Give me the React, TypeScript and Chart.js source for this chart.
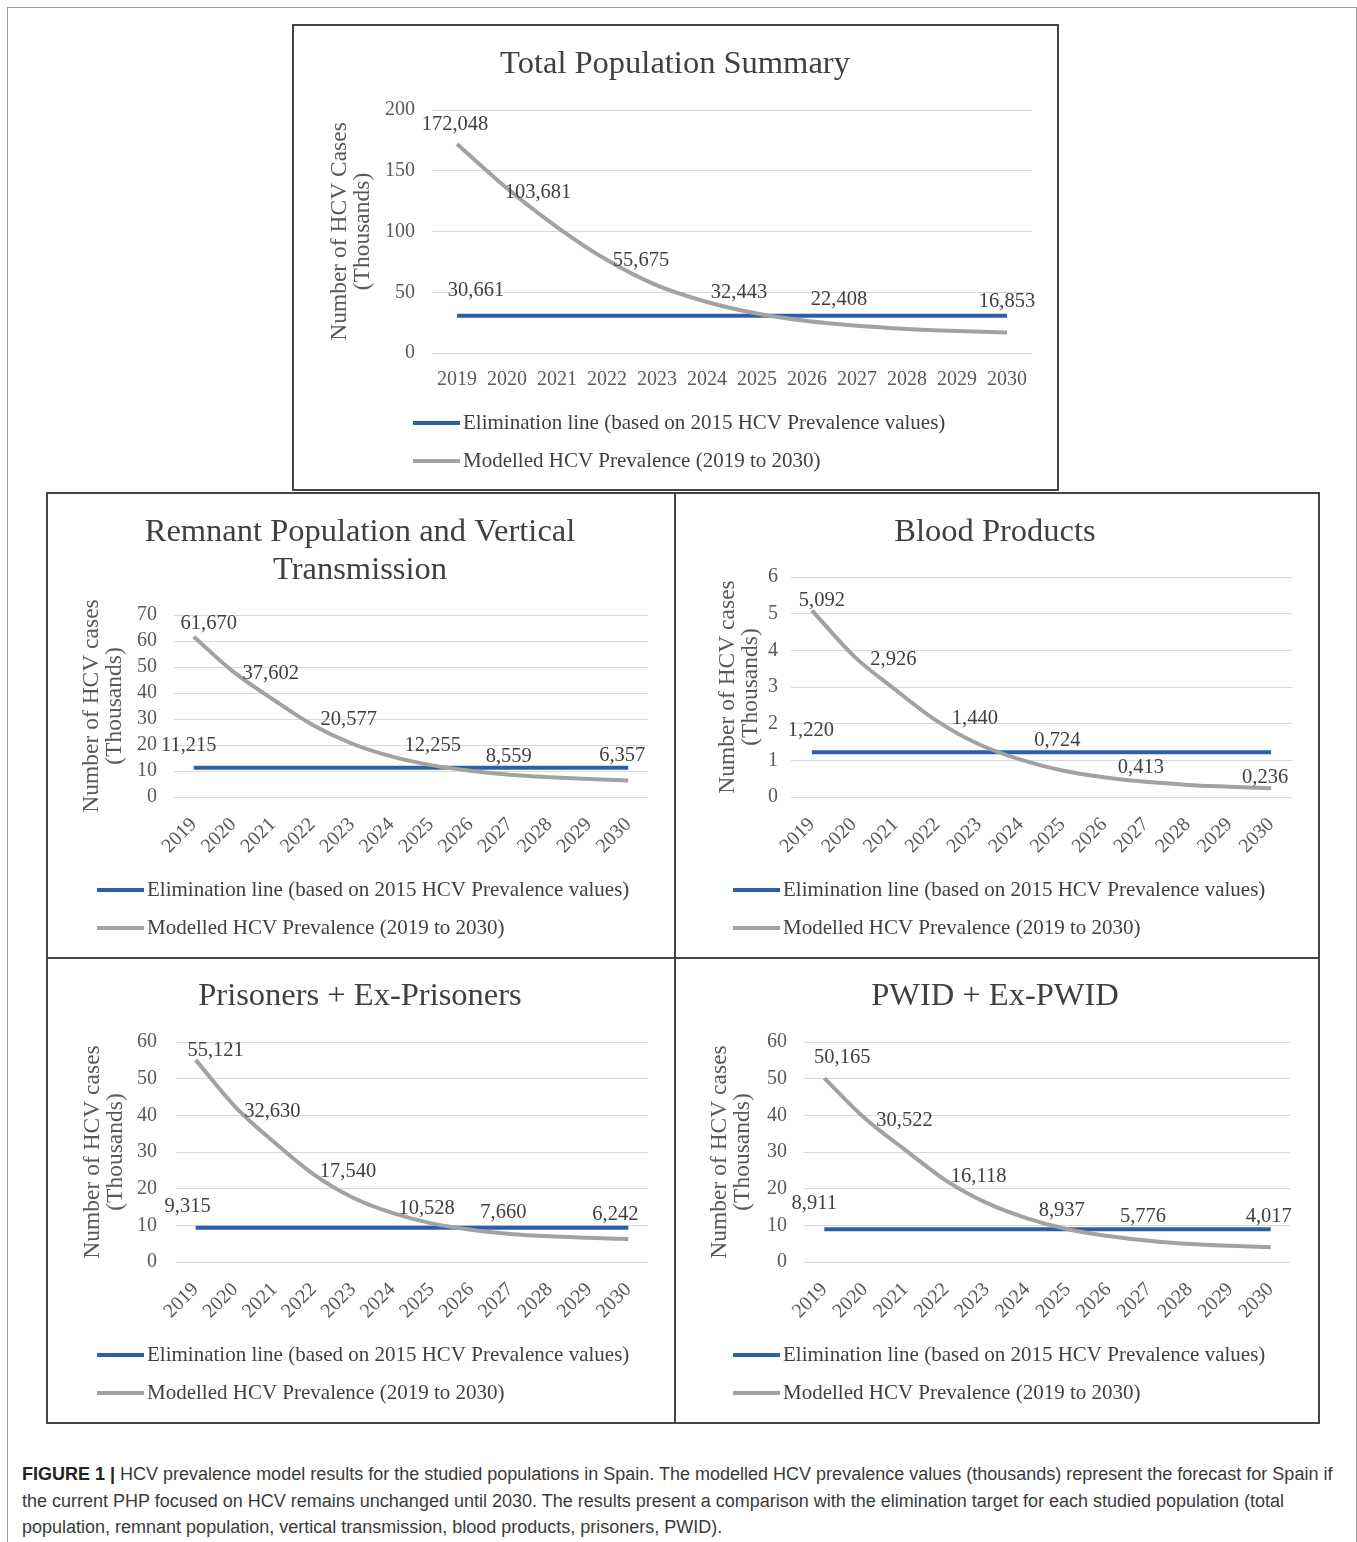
import React, { useEffect, useRef } from 'react';
import { Chart, registerables } from 'chart.js';

Chart.register(...registerables);

// ---------------- DATA ----------------
const years = ['2019', '2020', '2021', '2022', '2023', '2024', '2025', '2026', '2027', '2028', '2029', '2030'];
const modelledLabelYears = ['2019', '2021', '2023', '2025', '2027', '2030'];
const eliminationLabelYears = ['2019'];

const totalModelled = [172.048, 135.6, 103.681, 76.5, 55.675, 42.0, 32.443, 26.3, 22.408, 19.8, 18.1, 16.853];
const totalElimination = [30.661, 30.661, 30.661, 30.661, 30.661, 30.661, 30.661, 30.661, 30.661, 30.661, 30.661, 30.661];

const remnantModelled = [61.67, 48.2, 37.602, 27.8, 20.577, 15.6, 12.255, 10.1, 8.559, 7.6, 6.9, 6.357];
const remnantElimination = [11.215, 11.215, 11.215, 11.215, 11.215, 11.215, 11.215, 11.215, 11.215, 11.215, 11.215, 11.215];

const bloodModelled = [5.092, 3.85, 2.926, 2.07, 1.44, 1.02, 0.724, 0.54, 0.413, 0.33, 0.28, 0.236];
const bloodElimination = [1.22, 1.22, 1.22, 1.22, 1.22, 1.22, 1.22, 1.22, 1.22, 1.22, 1.22, 1.22];

const prisonModelled = [55.121, 42.4, 32.63, 23.9, 17.54, 13.4, 10.528, 8.8, 7.66, 7.0, 6.6, 6.242];
const prisonElimination = [9.315, 9.315, 9.315, 9.315, 9.315, 9.315, 9.315, 9.315, 9.315, 9.315, 9.315, 9.315];

const pwidModelled = [50.165, 39.2, 30.522, 22.2, 16.118, 11.9, 8.937, 7.1, 5.776, 4.9, 4.4, 4.017];
const pwidElimination = [8.911, 8.911, 8.911, 8.911, 8.911, 8.911, 8.911, 8.911, 8.911, 8.911, 8.911, 8.911];

const eliminationLabel = 'Elimination line (based on 2015 HCV Prevalence values)';
const modelledLabel = 'Modelled HCV Prevalence (2019 to 2030)';

// ---------------- STYLE ----------------
const SERIF = "'Liberation Serif', 'Times New Roman', 'DejaVu Serif', serif";
const BLUE = '#2f5ea9';
const GRAY = '#a2a2a2';
const TEXT = '#404040';
const TICK = '#595959';

const fmt = (v: number) => v.toFixed(3).replace('.', ',');

const labelPlugin = {
  id: 'hcvLabels',
  afterDatasetsDraw(chart: any, _args: any, opts: any) {
    const ctx = chart.ctx;
    ctx.save();
    ctx.font = `20.5px ${SERIF}`;
    ctx.fillStyle = TEXT;
    ctx.textAlign = 'center';
    ctx.textBaseline = 'middle';
    chart.data.datasets.forEach((ds: any, di: number) => {
      const meta = chart.getDatasetMeta(di);
      const isElim = ds.kind === 'elim';
      const wanted = isElim ? eliminationLabelYears : modelledLabelYears;
      wanted.forEach((yr: string, k: number) => {
        const idx = chart.data.labels.indexOf(yr);
        const el = meta.data[idx];
        if (!el) return;
        const off = isElim ? opts.elim : opts.offs[k];
        ctx.fillText(fmt(ds.data[idx]), el.x + off[0], el.y + off[1]);
      });
    });
    ctx.restore();
  },
};

const legendPlugin = {
  id: 'hcvLegend',
  afterDraw(chart: any, _args: any, opts: any) {
    const ctx = chart.ctx;
    ctx.save();
    chart.data.datasets.forEach((ds: any, i: number) => {
      const y = opts.rows[i];
      ctx.strokeStyle = ds.borderColor;
      ctx.lineWidth = 4;
      ctx.beginPath();
      ctx.moveTo(opts.x, y);
      ctx.lineTo(opts.x + 47, y);
      ctx.stroke();
      ctx.fillStyle = TEXT;
      ctx.font = `21px ${SERIF}`;
      ctx.textAlign = 'left';
      ctx.textBaseline = 'middle';
      ctx.fillText(ds.label, opts.x + 50, y);
    });
    ctx.restore();
  },
};

type Spec = {
  key: string;
  title: string[];
  yTitle: string[];
  modelled: number[];
  elimination: number[];
  yMax: number;
  yStep: number;
  box: { left: number; top: number; width: number; height: number };
  area: { left: number; right: number; top: number; bottom: number };
  titleY: number;
  titleCenterX: number;
  yTitleX: number;
  yTickRight: number;
  rotate: number;
  xTickPad: number;
  legendX: number;
  legendRows: number[];
  offs: number[][];
  elim: number[];
};

const panels: Spec[] = [
  {
    key: 'total',
    title: ['Total Population Summary'],
    yTitle: ['Number of HCV Cases', '(Thousands)'],
    modelled: totalModelled,
    elimination: totalElimination,
    yMax: 200,
    yStep: 50,
    box: { left: 292, top: 24, width: 767, height: 467 },
    area: { left: 140, right: 740, top: 86, bottom: 329 },
    titleY: 40,
    titleCenterX: 383,
    yTitleX: 48,
    yTickRight: 123,
    rotate: 0,
    xTickPad: 7,
    legendX: 121,
    legendRows: [399, 437],
    offs: [[-2, -19], [-19, -34], [-16, -25], [-18, -21], [-18, -26], [0, -31]],
    elim: [19, -25],
  },
  {
    key: 'remnant',
    title: ['Remnant Population and Vertical', 'Transmission'],
    yTitle: ['Number of HCV cases', '(Thousands)'],
    modelled: remnantModelled,
    elimination: remnantElimination,
    yMax: 70,
    yStep: 10,
    box: { left: 46, top: 492, width: 630, height: 467 },
    area: { left: 128, right: 602, top: 123, bottom: 305 },
    titleY: 40,
    titleCenterX: 314,
    yTitleX: 46,
    yTickRight: 111,
    rotate: 45,
    xTickPad: 8,
    legendX: 51,
    legendRows: [398, 436],
    offs: [[15, -13], [-2, -26], [-3, -24], [2, -20], [-1, -18], [-6, -25]],
    elim: [-5, -22],
  },
  {
    key: 'blood',
    title: ['Blood Products'],
    yTitle: ['Number of HCV cases', '(Thousands)'],
    modelled: bloodModelled,
    elimination: bloodElimination,
    yMax: 6,
    yStep: 1,
    box: { left: 674, top: 492, width: 646, height: 467 },
    area: { left: 117, right: 618, top: 85, bottom: 305 },
    titleY: 40,
    titleCenterX: 321,
    yTitleX: 54,
    yTickRight: 104,
    rotate: 45,
    xTickPad: 8,
    legendX: 59,
    legendRows: [398, 436],
    offs: [[10, -10], [-2, -30], [-4, -26], [-5, -30], [-5, -14], [-6, -11]],
    elim: [-1, -22],
  },
  {
    key: 'prison',
    title: ['Prisoners + Ex-Prisoners'],
    yTitle: ['Number of HCV cases', '(Thousands)'],
    modelled: prisonModelled,
    elimination: prisonElimination,
    yMax: 60,
    yStep: 10,
    box: { left: 46, top: 957, width: 630, height: 467 },
    area: { left: 130, right: 602, top: 85, bottom: 305 },
    titleY: 39,
    titleCenterX: 314,
    yTitleX: 47,
    yTickRight: 111,
    rotate: 45,
    xTickPad: 8,
    legendX: 51,
    legendRows: [398, 436],
    offs: [[20, -9], [-2, -31], [-5, -26], [-5, -15], [-7, -21], [-13, -25]],
    elim: [-8, -21],
  },
  {
    key: 'pwid',
    title: ['PWID + Ex-PWID'],
    yTitle: ['Number of HCV cases', '(Thousands)'],
    modelled: pwidModelled,
    elimination: pwidElimination,
    yMax: 60,
    yStep: 10,
    box: { left: 674, top: 957, width: 646, height: 467 },
    area: { left: 130, right: 617, top: 85, bottom: 305 },
    titleY: 39,
    titleCenterX: 321,
    yTitleX: 46,
    yTickRight: 113,
    rotate: 45,
    xTickPad: 8,
    legendX: 59,
    legendRows: [398, 436],
    offs: [[18, -20], [-1, -29], [-8, -26], [-6, -19], [-6, -24], [-2, -31]],
    elim: [-10, -26],
  },
];

function Panel({ spec }: { spec: Spec }) {
  const ref = useRef<HTMLCanvasElement>(null);
  useEffect(() => {
    const s = spec;
    const W = s.box.width;
    const H = s.box.height;
    const padR = W - s.area.right;
    const padL = 2 * s.titleCenterX - (W - padR);
    const titleSize = 32.5;
    const titleLH = 38;
    const pt = s.titleY - titleLH / 2;
    const pb = s.area.top - pt - s.title.length * titleLH;
    const xH = 60;
    const padB = H - s.area.bottom - xH;
    const ySize = 23.5;
    const yLH = 23;
    const yTitlePadTop = s.yTitleX - padL - yLH / 2;
    const yWidth = s.area.left - padL;
    const yTickPad = s.area.left - s.yTickRight;

    const chart = new Chart(ref.current as HTMLCanvasElement, {
      type: 'line',
      data: {
        labels: years,
        datasets: [
          {
            label: eliminationLabel,
            kind: 'elim',
            data: s.elimination,
            borderColor: BLUE,
            backgroundColor: BLUE,
            borderWidth: 4,
            pointRadius: 0,
            tension: 0,
            order: 1,
          } as any,
          {
            label: modelledLabel,
            kind: 'model',
            data: s.modelled,
            borderColor: GRAY,
            backgroundColor: GRAY,
            borderWidth: 4,
            pointRadius: 0,
            cubicInterpolationMode: 'monotone',
            order: 0,
          } as any,
        ],
      },
      options: {
        responsive: false,
        animation: false,
        layout: { padding: { left: padL, right: padR, top: 0, bottom: padB } },
        plugins: {
          legend: { display: false },
          tooltip: { enabled: false },
          title: {
            display: true,
            text: s.title,
            color: TEXT,
            font: { family: SERIF, size: titleSize, weight: 'normal', lineHeight: titleLH / titleSize },
            padding: { top: pt, bottom: pb },
          },
          hcvLabels: { offs: s.offs, elim: s.elim },
          hcvLegend: { x: s.legendX, rows: s.legendRows },
        } as any,
        scales: {
          x: {
            offset: true,
            grid: { display: false },
            border: { display: false },
            ticks: {
              autoSkip: false,
              minRotation: s.rotate,
              maxRotation: s.rotate,
              padding: s.xTickPad,
              color: TICK,
              font: { family: SERIF, size: 20 },
            },
            afterFit: (sc: any) => {
              sc.height = xH;
            },
          },
          y: {
            min: 0,
            max: s.yMax,
            ticks: {
              stepSize: s.yStep,
              autoSkip: false,
              padding: yTickPad,
              color: TICK,
              font: { family: SERIF, size: 20 },
            },
            grid: { color: '#d9d9d9', drawTicks: false, lineWidth: 1 },
            border: { display: false },
            title: {
              display: true,
              text: s.yTitle,
              color: TICK,
              font: { family: SERIF, size: ySize, lineHeight: yLH / ySize },
              padding: { top: yTitlePadTop, bottom: 0 },
            },
            afterFit: (sc: any) => {
              sc.width = yWidth;
            },
          },
        },
      } as any,
      plugins: [labelPlugin, legendPlugin],
    });
    return () => chart.destroy();
  }, [spec]);

  const b = spec.box;
  return (
    <>
      <canvas
        ref={ref}
        width={b.width}
        height={b.height}
        style={{ position: 'absolute', left: b.left, top: b.top, width: b.width, height: b.height }}
      />
      <div
        style={{
          position: 'absolute',
          left: b.left,
          top: b.top,
          width: b.width,
          height: b.height,
          border: '2px solid #454545',
          boxSizing: 'border-box',
          pointerEvents: 'none',
        }}
      />
    </>
  );
}

export default function App() {
  return (
    <div
      style={{
        position: 'absolute',
        left: 0,
        top: 0,
        width: 1357,
        height: 1542,
        background: '#ffffff',
        overflow: 'hidden',
      }}
    >
      <div
        style={{
          position: 'absolute',
          left: 7,
          top: 7,
          width: 1350,
          height: 1540,
          borderLeft: '1px solid #9a9a9a',
          borderTop: '1px solid #9a9a9a',
          borderRight: '1px solid #9a9a9a',
          boxSizing: 'border-box',
        }}
      />
      {panels.map((p) => (
        <Panel key={p.key} spec={p} />
      ))}
      <div
        style={{
          position: 'absolute',
          left: 22,
          top: 1461,
          fontFamily: "'Liberation Sans', Arial, sans-serif",
          fontSize: 18,
          lineHeight: '26.5px',
          color: '#3a3a3a',
          whiteSpace: 'nowrap',
        }}
      >
        <div>
          <b style={{ color: '#222' }}>FIGURE 1 |</b> HCV prevalence model results for the studied populations in Spain. The modelled HCV
          prevalence values (thousands) represent the forecast for Spain if
        </div>
        <div>
          the current PHP focused on HCV remains unchanged until 2030. The results present a comparison with the elimination target for each
          studied population (total
        </div>
        <div>population, remnant population, vertical transmission, blood products, prisoners, PWID).</div>
      </div>
    </div>
  );
}
